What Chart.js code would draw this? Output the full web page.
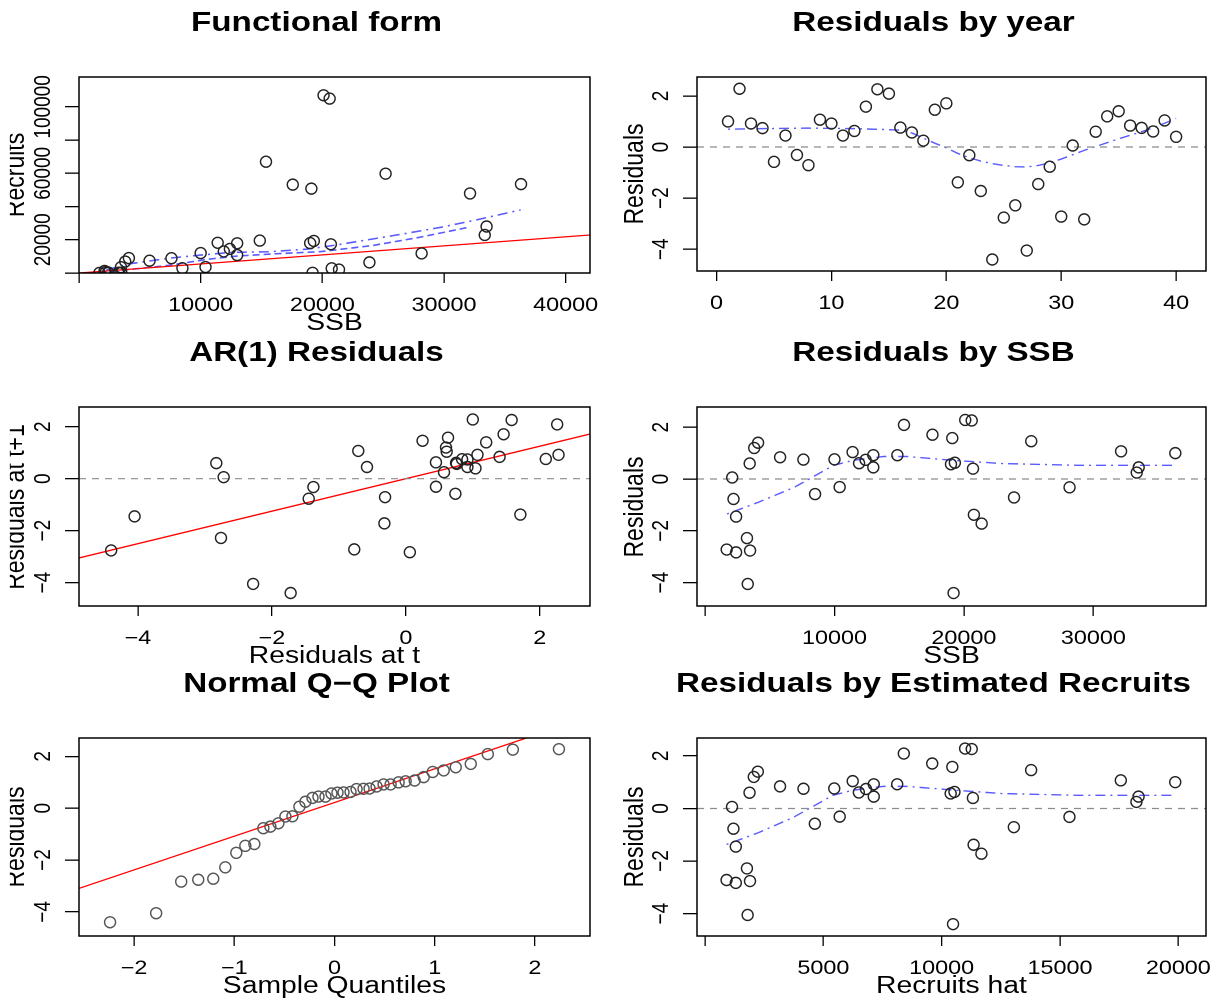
<!DOCTYPE html>
<html>
<head>
<meta charset="utf-8">
<script src="https://cdn.jsdelivr.net/npm/chart.js@4.4.1/dist/chart.umd.min.js"></script>
<style>
    html, body { margin: 0; padding: 0; background: #fff; overflow: hidden; }
    #page { position: absolute; left: 0; top: 0; width: 1219px; height: 1000px; overflow: hidden; }
    /* the text in the reference is stretched sideways, so the text stage is too */
    #stage { position: absolute; left: 0; top: 0; width: 992px; height: 1000px; transform: scaleX(1.23); transform-origin: 0 0; }
    #clip { position: absolute; left: 8px; top: 0; width: 984px; height: 1000px; overflow: hidden; }
    #inner { position: absolute; left: -8px; top: 0; width: 992px; height: 1000px; }
    canvas { position: absolute; }
    .t { position: absolute; font-family: "Liberation Sans", Arial, sans-serif; color: #000; white-space: nowrap; line-height: 1; }
    .main { font-weight: bold; font-size: 27px; transform: translateX(-50%); }
    .xl { font-size: 23px; transform: translateX(-50%); }
    .yl { font-size: 23px; transform: translate(-50%, -50%) rotate(-90deg); }
</style>
</head>
<body>
<div id="page"><div id="charts"></div><div id="stage"><div id="clip"><div id="inner"></div></div></div></div>
<script>
// Dados por ano (1 a 40)
const years = [1, 2, 3, 4, 5, 6, 7, 8, 9, 10, 11, 12, 13, 14, 15, 16, 17, 18, 19, 20,
               21, 22, 23, 24, 25, 26, 27, 28, 29, 30, 31, 32, 33, 34, 35, 36, 37, 38, 39, 40];
const ssb = [36330, 20100, 14860, 12400, 8500, 13000, 10400, 23870, 32140, 13000,
             33500, 19300, 19100, 20600, 15370, 10000, 19000, 33350, 25200, 17570,
             20770, 28160, 21370, 19200, 3480, 3240, 3300, 2400, 2200, 1674,
             2100, 2400, 3450, 3800, 4100, 5800, 7600, 11900, 11400, 20700];
const recruits = [53500, 107000, 19500, 14500, 2900, 10800, 3600, 6400, 47900, 17900,
                  28000, 19300, 50800, 105000, 67000, 12000, 18000, 22900, 59800, 53200,
                  2800, 11800, 2050, 130, 120, 190, 40, 320, 560, 60,
                  1270, 80, 3500, 6900, 9000, 7400, 8900, 13000, 18200, 17300];
const recruitsHat = [19870, 10990, 8120, 6800, 4640, 7130, 5690, 13050, 17570, 7130,
                     18320, 10540, 10450, 11270, 8400, 5460, 10380, 18230, 13780, 9600,
                     11350, 15400, 11680, 10480, 1900, 1770, 1800, 1300, 1200, 910,
                     1140, 1300, 1880, 2060, 2230, 3170, 4160, 6500, 6240, 11320];
const resid = [1.00, 2.28, 0.92, 0.74, -0.58, 0.45, -0.31, -0.71, 1.07, 0.92,
               0.45, 0.63, 1.58, 2.26, 2.09, 0.76, 0.57, 0.25, 1.46, 1.71,
               -1.38, -0.32, -1.72, -4.40, -2.76, -2.28, -4.05, -1.45, -0.77, -2.72,
               0.06, -2.83, 0.60, 1.20, 1.40, 0.84, 0.75, 0.61, 1.04, 0.40];

// Quantis teoricos do grafico Q-Q
const qqTheoretical = [-2.24, -1.78, -1.53, -1.36, -1.21, -1.09, -0.98, -0.89, -0.80, -0.71,
                       -0.64, -0.56, -0.49, -0.42, -0.35, -0.29, -0.22, -0.16, -0.09, -0.03,
                       0.03, 0.09, 0.16, 0.22, 0.29, 0.35, 0.42, 0.49, 0.56, 0.64,
                       0.71, 0.80, 0.89, 0.98, 1.09, 1.21, 1.36, 1.53, 1.78, 2.24];

// Curvas suavizadas
const formSmoothX = [1700, 3900, 7400, 10000, 12500, 15600, 18800, 21000, 23500, 26700, 29800, 33000, 36300];
const formSmoothY = [600, 5300, 8900, 10800, 12400, 12800, 14400, 16700, 19700, 23600, 27600, 32500, 38000];
const formSmooth2X = [1700, 3400, 7500, 10500, 13000, 16000, 19900, 24100, 28000, 32000];
const formSmooth2Y = [300, 1500, 4700, 8200, 10200, 11500, 12900, 16500, 21500, 27500];
const yearSmoothX = [1, 4, 8, 12, 15, 16, 17, 18, 19, 20, 21, 22, 23, 24, 25, 26, 27, 28, 29, 30, 31, 32, 33, 34, 35, 36, 37, 38, 39, 40];
const yearSmoothY = [0.70, 0.72, 0.74, 0.72, 0.68, 0.66, 0.55, 0.35, 0.15, -0.03, -0.25, -0.42, -0.55, -0.65, -0.72, -0.77, -0.78, -0.72, -0.62, -0.47, -0.30, -0.13, 0.02, 0.17, 0.32, 0.46, 0.60, 0.75, 0.93, 1.12];
const ssbSmoothX = [1700, 4100, 6900, 9900, 11400, 13800, 15600, 19200, 22900, 28900, 36300];
const ssbSmoothY = [-1.35, -0.90, -0.32, 0.52, 0.72, 0.87, 0.87, 0.72, 0.60, 0.53, 0.53];
const hatSmoothX = [910, 2260, 3750, 5400, 6220, 7540, 8530, 10510, 12490, 15790, 19870];
const hatSmoothY = [-1.37, -0.92, -0.33, 0.50, 0.69, 0.84, 0.84, 0.70, 0.57, 0.50, 0.50];

// Retas ajustadas
const formSlope = 0.545;
const arIntercept = 0.0, arSlope = 0.625;
const qqIntercept = 0.22, qqSlope = 1.30;

// Marcas dos eixos
const formXTicks = [0, 10000, 20000, 30000, 40000];
const formXLabels = [10000, 20000, 30000, 40000];
const formYTicks = [0, 20000, 40000, 60000, 80000, 100000];
const formYLabels = [20000, 60000, 100000];
const yearTicks = [0, 10, 20, 30, 40];
const residTicks = [-4, -2, 0, 2];
const ssbTicks = [0, 10000, 20000, 30000];
const ssbLabels = [10000, 20000, 30000];
const qqTicks = [-2, -1, 0, 1, 2];
const hatTicks = [0, 5000, 10000, 15000, 20000];
const hatLabels = [5000, 10000, 15000, 20000];

const SX = 1.23;
const charts = document.getElementById('charts');
const inner = document.getElementById('inner');
const FONT = '"Liberation Sans", Arial, sans-serif';

function pts(xs, ys) {
    return xs.map((v, i) => ({ x: v, y: ys[i] }));
}

function abLine(a, b, x0, x1) {
    return [{ x: x0, y: a + b * x0 }, { x: x1, y: a + b * x1 }];
}

function fmt(v) {
    return String(v).replace('-', '\u2212');
}

// texto HTML no palco esticado (coordenadas da pagina divididas por SX)
function addText(cls, txt, x, y) {
    const el = document.createElement('div');
    el.className = 't ' + cls;
    el.textContent = txt;
    el.style.left = (x / SX) + 'px';
    el.style.top = y + 'px';
    inner.appendChild(el);
}

// Moldura e rotulos das marcas (estilo R)
const rAxes = {
    id: 'rAxes',
    afterDraw(chart, args, opts) {
        const { ctx, chartArea: a, scales: { x, y } } = chart;
        ctx.save();
        ctx.strokeStyle = '#000';
        ctx.lineWidth = 1.5;
        ctx.strokeRect(a.left, a.top, a.right - a.left, a.bottom - a.top);
        ctx.fillStyle = '#000';
        ctx.font = '19px ' + FONT;
        ctx.textAlign = 'center';
        ctx.textBaseline = 'alphabetic';
        opts.xLabels.forEach(v => {
            ctx.save();
            ctx.translate(x.getPixelForValue(v), a.bottom + 38);
            ctx.scale(SX, 1);
            ctx.fillText(fmt(v), 0, 0);
            ctx.restore();
        });
        opts.yLabels.forEach(v => {
            ctx.save();
            ctx.translate(a.left - 29, y.getPixelForValue(v));
            ctx.scale(SX, 1);
            ctx.rotate(-Math.PI / 2);
            ctx.fillText(fmt(v), 0, 0);
            ctx.restore();
        });
        ctx.restore();
    }
};

function pointSet(data, color) {
    return {
        data: data, showLine: false,
        pointRadius: 5.5, pointBorderWidth: 1.4,
        pointBorderColor: color || '#222', pointBackgroundColor: 'rgba(0,0,0,0)'
    };
}

function lineSet(data, color, dash, width) {
    return {
        data: data, showLine: true, pointRadius: 0,
        borderColor: color, borderWidth: width || 1.2, borderDash: dash || [], fill: false, tension: 0
    };
}

function zeroLine(xr) {
    return lineSet([{ x: xr[0], y: 0 }, { x: xr[1], y: 0 }], '#8c8c8c', [7, 6], 1.2);
}

const BLUE = 'rgba(35,35,255,0.75)';
const DOTDASH = [2, 5, 10, 5];

function makePanel(p) {
    const b = p.box;
    const ML = 90, MR = 12, MT = 10, MB = 60;
    const w = b.r - b.l + ML + MR, h = b.b - b.t + MT + MB;
    const cv = document.createElement('canvas');
    cv.style.left = (b.l - ML) + 'px';
    cv.style.top = (b.t - MT) + 'px';
    cv.style.width = w + 'px';
    cv.style.height = h + 'px';
    cv.width = w;
    cv.height = h;
    charts.appendChild(cv);

    new Chart(cv, {
        type: 'scatter',
        data: { datasets: p.datasets },
        options: {
            responsive: false, animation: false, devicePixelRatio: 2,
            layout: { padding: { top: MT, right: MR, left: 0, bottom: 0 } },
            plugins: {
                legend: { display: false }, tooltip: { enabled: false },
                rAxes: { xLabels: p.xLabels, yLabels: p.yLabels }
            },
            scales: {
                x: {
                    type: 'linear', min: p.xr[0], max: p.xr[1],
                    afterBuildTicks: s => { s.ticks = p.xTicks.map(v => ({ value: v })); },
                    afterFit: s => { s.height = MB; },
                    ticks: { display: false },
                    grid: { drawOnChartArea: false, drawTicks: true, tickLength: 10, color: '#000', lineWidth: 1.3 },
                    border: { display: false }
                },
                y: {
                    type: 'linear', min: p.yr[0], max: p.yr[1],
                    afterBuildTicks: s => { s.ticks = p.yTicks.map(v => ({ value: v })); },
                    afterFit: s => { s.width = ML; },
                    ticks: { display: false },
                    grid: { drawOnChartArea: false, drawTicks: true, tickLength: 14, color: '#000', lineWidth: 1.3 },
                    border: { display: false }
                }
            }
        },
        plugins: [rAxes]
    });

    addText('main', p.title, (b.l + b.r) / 2 - 18, b.t - 68);
    if (p.xTitle) addText('xl', p.xTitle, (b.l + b.r) / 2, b.b + 37.5);
    addText('yl', p.yTitle, b.l - 64, (b.t + b.b) / 2);
}

const LEFT = { l: 79, r: 590 };
const RIGHT = { l: 697, r: 1206 };
const residRange = [-4.85, 2.74];

const formXr = [0, 42000];
makePanel({
    box: { l: LEFT.l, r: LEFT.r, t: 77, b: 273 },
    title: 'Functional form', xTitle: 'SSB', yTitle: 'Recruits',
    xr: formXr, yr: [0, 118000],
    xTicks: formXTicks, xLabels: formXLabels, yTicks: formYTicks, yLabels: formYLabels,
    datasets: [
        pointSet(pts(ssb, recruits)),
        lineSet(abLine(0, formSlope, formXr[0], formXr[1]), 'red', [], 1.3),
        lineSet(pts(formSmoothX, formSmoothY), BLUE, DOTDASH, 1.6),
        lineSet(pts(formSmooth2X, formSmooth2Y), BLUE, [7, 4], 1.6)
    ]
});

const yearXr = [-1.7, 42.6];
makePanel({
    box: { l: RIGHT.l, r: RIGHT.r, t: 77, b: 271 },
    title: 'Residuals by year', xTitle: '', yTitle: 'Residuals',
    xr: yearXr, yr: residRange,
    xTicks: yearTicks, xLabels: yearTicks, yTicks: residTicks, yLabels: residTicks,
    datasets: [
        pointSet(pts(years, resid)),
        zeroLine(yearXr),
        lineSet(pts(yearSmoothX, yearSmoothY), BLUE, DOTDASH, 1.4)
    ]
});

const arXr = [-4.88, 2.75];
makePanel({
    box: { l: LEFT.l, r: LEFT.r, t: 407, b: 606 },
    title: 'AR(1) Residuals', xTitle: 'Residuals at t', yTitle: 'Residuals at t+1',
    xr: arXr, yr: [-4.9, 2.76],
    xTicks: residTicks, xLabels: residTicks, yTicks: residTicks, yLabels: residTicks,
    datasets: [
        pointSet(pts(resid.slice(0, -1), resid.slice(1))),
        zeroLine(arXr),
        lineSet(abLine(arIntercept, arSlope, arXr[0], arXr[1]), 'red', [], 1.3)
    ]
});

const ssbXr = [-620, 38700];
makePanel({
    box: { l: RIGHT.l, r: RIGHT.r, t: 407, b: 606 },
    title: 'Residuals by SSB', xTitle: 'SSB', yTitle: 'Residuals',
    xr: ssbXr, yr: [-4.9, 2.78],
    xTicks: ssbTicks, xLabels: ssbLabels, yTicks: residTicks, yLabels: residTicks,
    datasets: [
        pointSet(pts(ssb, resid)),
        zeroLine(ssbXr),
        lineSet(pts(ssbSmoothX, ssbSmoothY), BLUE, DOTDASH, 1.4)
    ]
});

const qqXr = [-2.55, 2.55];
makePanel({
    box: { l: LEFT.l, r: LEFT.r, t: 738, b: 936 },
    title: 'Normal Q\u2212Q Plot', xTitle: 'Sample Quantiles', yTitle: 'Residuals',
    xr: qqXr, yr: [-4.93, 2.71],
    xTicks: qqTicks, xLabels: qqTicks, yTicks: residTicks, yLabels: residTicks,
    datasets: [
        pointSet(pts(qqTheoretical, resid.slice().sort((a, b) => a - b)), '#555'),
        lineSet(abLine(qqIntercept, qqSlope, qqXr[0], qqXr[1]), 'red', [], 1.3)
    ]
});

const hatXr = [-340, 21170];
makePanel({
    box: { l: RIGHT.l, r: RIGHT.r, t: 738, b: 936 },
    title: 'Residuals by Estimated Recruits', xTitle: 'Recruits hat', yTitle: 'Residuals',
    xr: hatXr, yr: [-4.85, 2.68],
    xTicks: hatTicks, xLabels: hatLabels, yTicks: residTicks, yLabels: residTicks,
    datasets: [
        pointSet(pts(recruitsHat, resid)),
        zeroLine(hatXr),
        lineSet(pts(hatSmoothX, hatSmoothY), BLUE, DOTDASH, 1.4)
    ]
});
</script>
</body>
</html>
